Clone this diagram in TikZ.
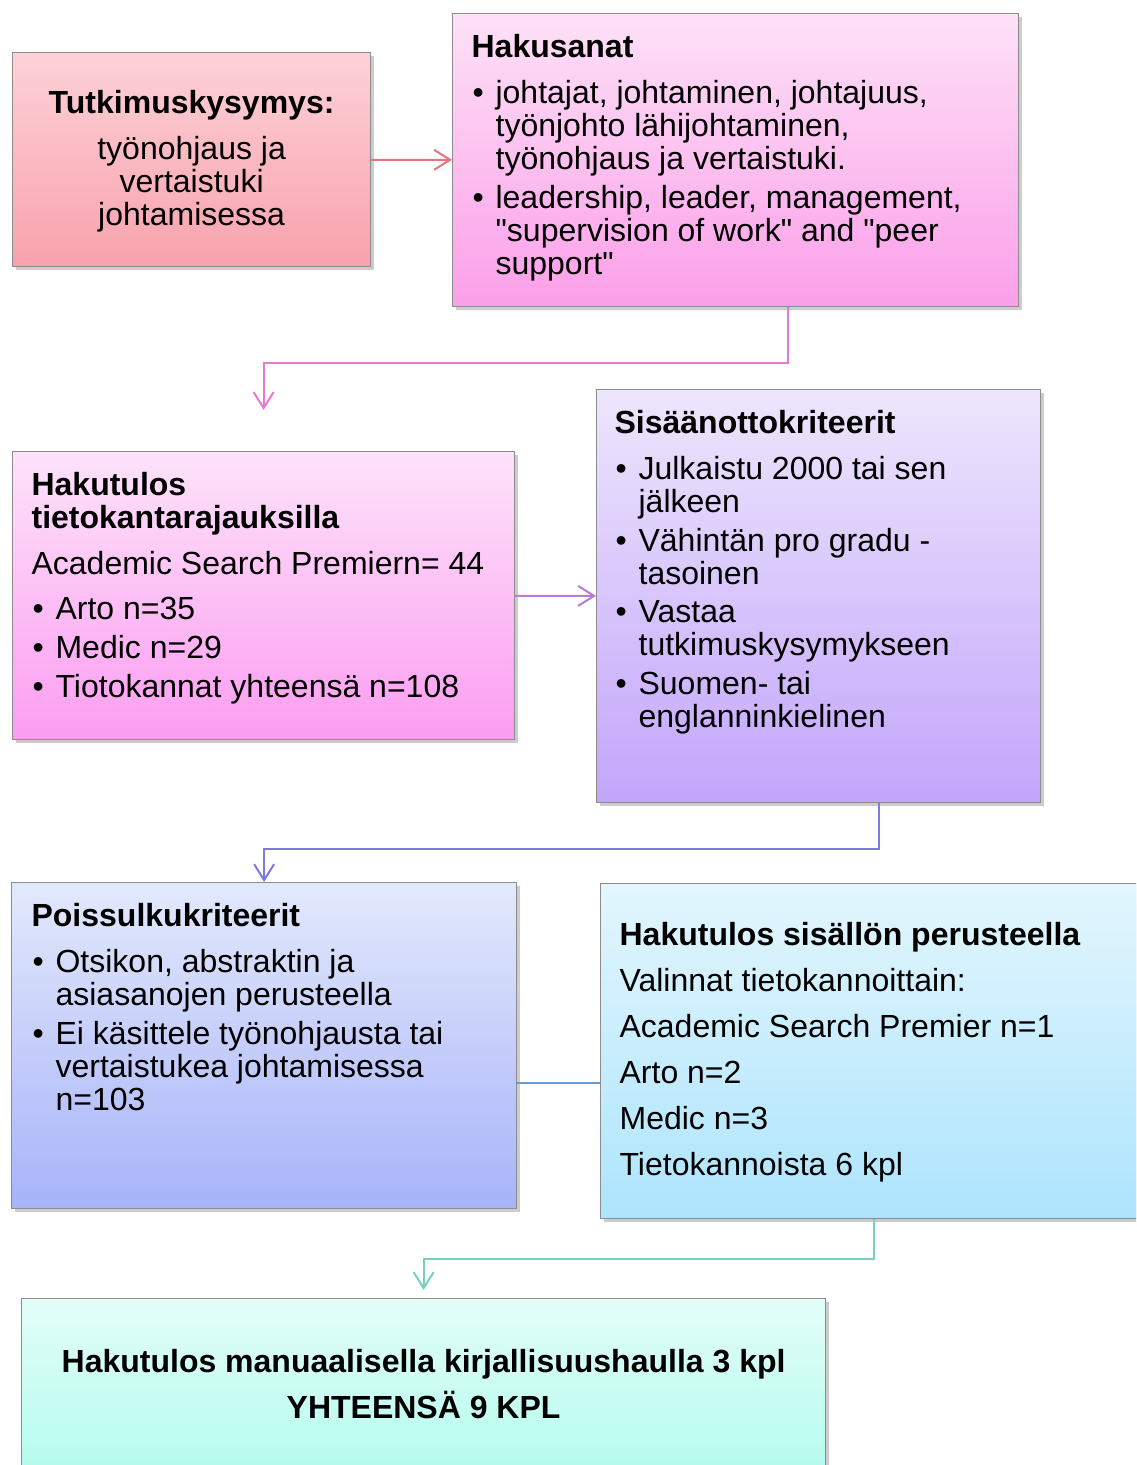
\documentclass[tikz,border=0pt]{standalone}
\usepackage{fontspec}
\setmainfont{Liberation Sans}
\usetikzlibrary{arrows.meta, shadows}

\definecolor{rosetop}{HTML}{FDD1D8}
\definecolor{rosebot}{HTML}{F8A2AC}
\definecolor{roseline}{HTML}{E9727F}
\definecolor{pinktop}{HTML}{FDE1F7}
\definecolor{pinkbot}{HTML}{FC9FE9}
\definecolor{pinkline}{HTML}{E879D3}
\definecolor{orchtop}{HTML}{FDE3FA}
\definecolor{orchbot}{HTML}{FC9DF1}
\definecolor{orchline}{HTML}{B77BE0}
\definecolor{lilactop}{HTML}{EDE6FC}
\definecolor{lilacbot}{HTML}{C3A5FB}
\definecolor{lilacline}{HTML}{7D7BDD}
\definecolor{bluetop}{HTML}{E3E9FC}
\definecolor{bluebot}{HTML}{A7B3F9}
\definecolor{blueline}{HTML}{6C9CCB}
\definecolor{skytop}{HTML}{E3F6FD}
\definecolor{skybot}{HTML}{ADE4FD}
\definecolor{skyline}{HTML}{77D0BE}
\definecolor{minttop}{HTML}{E3FDF8}
\definecolor{mintbot}{HTML}{AEFBEC}

\newcommand{\boxtext}[6]{\parbox[c][#2][t]{#1}{\leftskip=#3\rightskip=0pt plus 1fil\parskip=#4\rule{0pt}{#5}#6}}
\newcommand{\boxtextc}[4]{\parbox[c][#2][t]{#1}{\centering\rule{0pt}{#3}#4}}
\newcommand{\bul}[1]{\par\hangindent=12pt\hangafter=1\noindent\hspace*{0.5pt}\makebox[11.5pt][l]{•}#1}

\tikzset{
	box/.style={draw=black!45, line width=0.6pt, inner sep=0pt, anchor=north west,
		drop shadow={shadow xshift=1.5pt, shadow yshift=-1.5pt, opacity=0.4},
		font=\fontsize{16}{16.5}\selectfont},
	arr/.style={-{Straight Barb[length=8pt,width=10pt]}, line width=1pt}
}

\begin{document}
\begin{tikzpicture}[x=0.5pt, y=-0.5pt]
	\fill[white] (0,0) rectangle (1136,1465);
	\clip (0,0) rectangle (1136,1465);

	\node[box, top color=rosetop, bottom color=rosebot] (b1) at (12,52)
		{\boxtextc{179pt}{107pt}{30.5pt}{\textbf{Tutkimuskysymys:}\\[6.5pt]työnohjaus ja\\vertaistuki\\johtamisessa}};
	\node[box, top color=pinktop, bottom color=pinkbot] (b2) at (452,13)
		{\boxtext{283pt}{146.5pt}{9.5pt}{3pt}{22pt}{\textbf{Hakusanat}\par\vspace{3.5pt}
		\bul{johtajat, johtaminen, johtajuus,\newline työnjohto lähijohtaminen,\newline työnohjaus ja vertaistuki.}
		\bul{leadership, leader, management,\newline \textquotedbl supervision of work\textquotedbl{} and \textquotedbl peer\newline support\textquotedbl}}};
	\node[box, top color=orchtop, bottom color=orchbot] (b3) at (12,451)
		{\boxtext{251pt}{144pt}{9.5pt}{3pt}{22pt}{\textbf{Hakutulos\newline tietokantarajauksilla}\par\vspace{3.5pt}
		Academic Search Premiern= 44\par\vspace{3pt}
		\bul{Arto n=35}\bul{Medic n=29}\bul{Tiotokannat yhteensä n=108}}};
	\node[box, top color=lilactop, bottom color=lilacbot] (b4) at (596,389)
		{\boxtext{222pt}{206.5pt}{9pt}{2.75pt}{22pt}{\textbf{Sisäänottokriteerit}\par\vspace{3.75pt}
		\bul{Julkaistu 2000 tai sen\newline jälkeen}
		\bul{Vähintän pro gradu -\newline tasoinen}
		\bul{Vastaa\newline tutkimuskysymykseen}
		\bul{Suomen- tai\newline englanninkielinen}}};
	\node[box, top color=bluetop, bottom color=bluebot] (b5) at (11,882)
		{\boxtext{252.5pt}{163pt}{10pt}{3pt}{22pt}{\textbf{Poissulkukriteerit}\par\vspace{3.5pt}
		\bul{Otsikon, abstraktin ja\newline asiasanojen perusteella}
		\bul{Ei käsittele työnohjausta tai\newline vertaistukea johtamisessa\newline n=103}}};
	\node[box, top color=skytop, bottom color=skybot] (b6) at (600,883)
		{\boxtext{273pt}{167.5pt}{9.5pt}{6.5pt}{31pt}{\textbf{Hakutulos sisällön perusteella}\par
		Valinnat tietokannoittain:\par Academic Search Premier n=1\par Arto n=2\par Medic n=3\par Tietokannoista 6 kpl}};
	\node[box, top color=minttop, bottom color=mintbot] (b7) at (21,1298)
		{\boxtextc{402pt}{100pt}{37pt}{\textbf{Hakutulos manuaalisella kirjallisuushaulla 3 kpl}\\[5pt]\textbf{YHTEENSÄ 9 KPL}}};

	\coordinate (e23) at ([yshift=20.5pt]b3.north);
	\coordinate (e67) at ([yshift=4pt]b7.north);

	\draw[arr, roseline] (b1) -- (b2);
	\draw[arr, pinkline] ([xshift=26pt]b2.south) -- ++(0,56) -| (e23);
	\draw[arr, orchline] (b3) -- (b4);
	\draw[arr, lilacline] ([xshift=30pt]b4.south) -- ++(0,46) -| (b5.north);
	\draw[line width=1pt, blueline] ([yshift=-18.5pt]b5.east) -- ([yshift=-18.5pt]b5.east -| b6.west);
	\draw[arr, skyline] (b6.south) -- ++(0,40) -| (e67);
\end{tikzpicture}
\end{document}
